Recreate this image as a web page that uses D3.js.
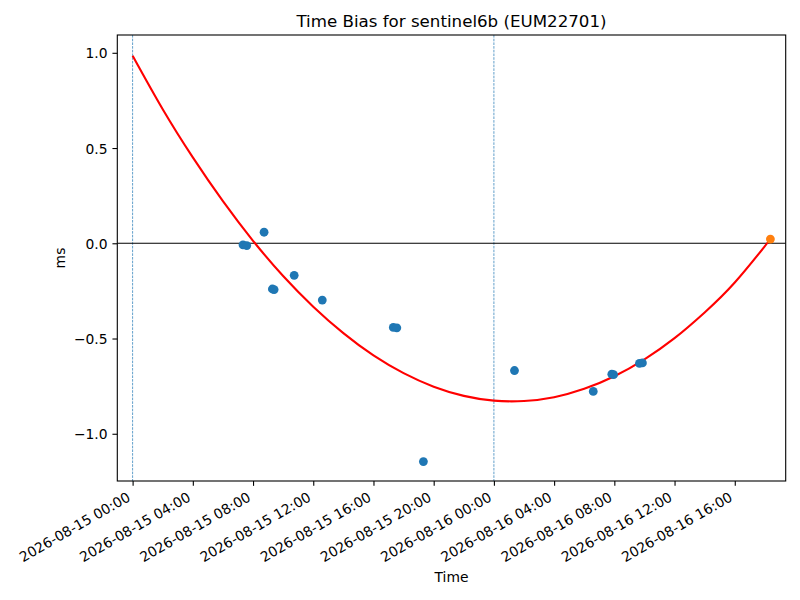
<!DOCTYPE html>
<html>
<head>
<meta charset="utf-8">
<script src="https://cdn.jsdelivr.net/npm/d3@7"></script>
<style>
  body { margin: 0; background: #fff; }
  svg { display: block; font-family: "DejaVu Sans", sans-serif; }
</style>
</head>
<body>
<svg id="chart" width="800" height="600"></svg>
<script>
// ---------- data ----------
const titleText = "Time Bias for sentinel6b (EUM22701)";
const xLabel = "Time";
const yLabel = "ms";

const obsTimes = [
  "2026-08-15 07:20", "2026-08-15 07:35", "2026-08-15 08:44", "2026-08-15 09:17",
  "2026-08-15 09:24", "2026-08-15 10:44", "2026-08-15 12:36", "2026-08-15 17:19",
  "2026-08-15 17:33", "2026-08-15 19:19", "2026-08-16 01:22", "2026-08-16 06:36",
  "2026-08-16 07:50", "2026-08-16 07:57", "2026-08-16 09:40", "2026-08-16 09:52"
];
const obsValues = [
  -0.008, -0.012, 0.058, -0.240,
  -0.243, -0.168, -0.298, -0.442,
  -0.444, -1.146, -0.668, -0.778,
  -0.687, -0.690, -0.630, -0.628
];

const predTimes = ["2026-08-16 18:22"];
const predValues = [0.022];

const fitTimes = [
  "2026-08-15 00:00", "2026-08-15 02:00", "2026-08-15 04:00", "2026-08-15 06:00",
  "2026-08-15 08:00", "2026-08-15 10:00", "2026-08-15 12:00", "2026-08-15 14:00",
  "2026-08-15 16:00", "2026-08-15 18:00", "2026-08-15 20:00", "2026-08-15 22:00",
  "2026-08-16 00:00", "2026-08-16 02:00", "2026-08-16 04:00", "2026-08-16 06:00",
  "2026-08-16 08:00", "2026-08-16 10:00", "2026-08-16 12:00", "2026-08-16 14:00",
  "2026-08-16 16:00", "2026-08-16 18:00", "2026-08-16 18:22"
];
const fitValues = [
  0.985, 0.704, 0.451, 0.221,
  0.013, -0.172, -0.333, -0.472,
  -0.589, -0.682, -0.753, -0.801,
  -0.826, -0.828, -0.808, -0.764,
  -0.698, -0.609, -0.498, -0.363,
  -0.206, -0.015, 0.020
];

const dayLines = ["2026-08-15 00:00", "2026-08-16 00:00"];

const xTickTimes = [
  "2026-08-15 00:00", "2026-08-15 04:00", "2026-08-15 08:00", "2026-08-15 12:00",
  "2026-08-15 16:00", "2026-08-15 20:00", "2026-08-16 00:00", "2026-08-16 04:00",
  "2026-08-16 08:00", "2026-08-16 12:00", "2026-08-16 16:00"
];
const yTicks = [-1.0, -0.5, 0.0, 0.5, 1.0];

const xRange = ["2026-08-14 22:59", "2026-08-16 19:23"];
const yRange = [-1.248, 1.0934];

// ---------- layout ----------
const svg = d3.select("#chart");
const L = 117.3, R = 785.7, T = 35, B = 481;
const parse = d3.utcParse("%Y-%m-%d %H:%M");
const fmt = d3.utcFormat("%Y-%m-%d %H:%M");

const x = d3.scaleUtc().domain(xRange.map(parse)).range([L, R]);
const y = d3.scaleLinear().domain(yRange).range([B, T]);

svg.append("rect").attr("width", 800).attr("height", 600).attr("fill", "#fff");

const plot = svg.append("g");
plot.append("defs").append("clipPath").attr("id", "clip")
  .append("rect").attr("x", L).attr("y", T).attr("width", R - L).attr("height", B - T);
const inner = plot.append("g").attr("clip-path", "url(#clip)");

// vertical day lines
inner.selectAll("line.day").data(dayLines).enter().append("line")
  .attr("class", "day")
  .attr("x1", d => x(parse(d))).attr("x2", d => x(parse(d)))
  .attr("y1", T).attr("y2", B)
  .attr("stroke", "#1f77b4").attr("stroke-width", 0.7)
  .attr("stroke-dasharray", "2.6,1.1");

// zero line
inner.append("line")
  .attr("x1", L).attr("x2", R).attr("y1", y(0)).attr("y2", y(0))
  .attr("stroke", "#000").attr("stroke-width", 1.1);

// fit curve
const fitData = fitTimes.map((t, i) => [parse(t), fitValues[i]]);
inner.append("path")
  .datum(fitData)
  .attr("fill", "none").attr("stroke", "red").attr("stroke-width", 2.1)
  .attr("d", d3.line().x(d => x(d[0])).y(d => y(d[1])).curve(d3.curveNatural));

// observations
const obs = obsTimes.map((t, i) => [parse(t), obsValues[i]]);
inner.selectAll("circle.obs").data(obs).enter().append("circle")
  .attr("class", "obs")
  .attr("cx", d => x(d[0])).attr("cy", d => y(d[1])).attr("r", 4.4)
  .attr("fill", "#1f77b4");

// prediction
const pred = predTimes.map((t, i) => [parse(t), predValues[i]]);
inner.selectAll("circle.pred").data(pred).enter().append("circle")
  .attr("class", "pred")
  .attr("cx", d => x(d[0])).attr("cy", d => y(d[1])).attr("r", 4.4)
  .attr("fill", "#ff7f0e");

// axes
const xAxis = d3.axisBottom(x).tickValues(xTickTimes.map(parse)).tickFormat(fmt)
  .tickSize(4.86).tickSizeOuter(0);
const gx = svg.append("g").attr("transform", `translate(0,${B})`).call(xAxis);
gx.select(".domain").remove();
gx.selectAll(".tick line").attr("stroke", "#000").attr("stroke-width", 1.1);
gx.selectAll(".tick text")
  .attr("fill", "#000")
  .style("font-size", "13.89px")
  .style("font-family", "DejaVu Sans")
  .attr("text-anchor", "end")
  .attr("y", 0).attr("dy", 0)
  .attr("transform", "translate(-1.8,19) rotate(-30)");

const yAxis = d3.axisLeft(y).tickValues(yTicks).tickFormat(d3.format(".1f"))
  .tickSize(4.86).tickSizeOuter(0);
const gy = svg.append("g").attr("transform", `translate(${L},0)`).call(yAxis);
gy.select(".domain").remove();
gy.selectAll(".tick line").attr("stroke", "#000").attr("stroke-width", 1.1);
gy.selectAll(".tick text")
  .attr("fill", "#000")
  .style("font-size", "13.89px")
  .style("font-family", "DejaVu Sans")
  .attr("x", -9.7).attr("dy", "0.36em");

// frame
svg.append("rect")
  .attr("x", L).attr("y", T).attr("width", R - L).attr("height", B - T)
  .attr("fill", "none").attr("stroke", "#000").attr("stroke-width", 1.1);

// labels
svg.append("text")
  .attr("x", (L + R) / 2).attr("y", 26.7)
  .attr("text-anchor", "middle")
  .style("font-size", "16.67px")
  .text(titleText);

svg.append("text")
  .attr("x", (L + R) / 2).attr("y", 582)
  .attr("text-anchor", "middle")
  .style("font-size", "13.89px")
  .text(xLabel);

svg.append("text")
  .attr("transform", `translate(65.3,${(T + B) / 2}) rotate(-90)`)
  .attr("text-anchor", "middle")
  .style("font-size", "13.89px")
  .text(yLabel);
</script>
</body>
</html>
